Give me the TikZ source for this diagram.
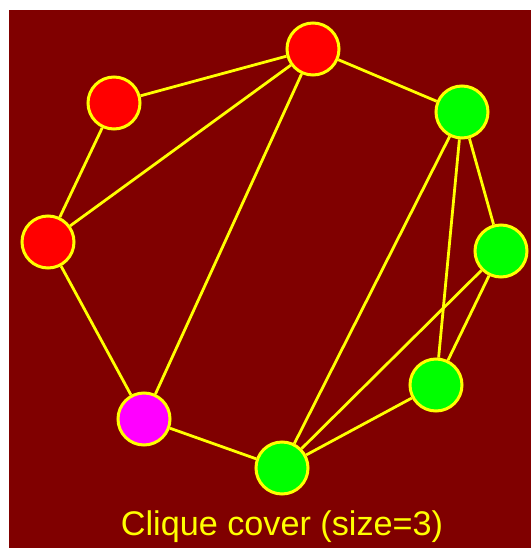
\documentclass[tikz,border=0pt]{standalone}
\usepackage{fontspec}
\setmainfont{Liberation Sans}
\definecolor{bgmaroon}{HTML}{800000}
\definecolor{edgeyellow}{HTML}{FFFF00}
\definecolor{vred}{HTML}{FF0000}
\definecolor{vgreen}{HTML}{00FF00}
\definecolor{vmagenta}{HTML}{FF00FF}
\tikzset{
	vtx/.style={circle, draw=edgeyellow, line width=3pt, minimum size=52pt, inner sep=0pt},
	edg/.style={draw=edgeyellow, line width=2.8pt}
}
\begin{document}
\begin{tikzpicture}[x=1pt, y=-1pt]
	\useasboundingbox (0,0) rectangle (531,549) ;
	\fill[white] (0,0) rectangle (531,549) ;
	\fill[bgmaroon] (9,10) rectangle (531,548) ;
	% red clique
		\node (a)[vtx, fill=vred] at (313, 49) {} ; 
		\node (b)[vtx, fill=vred] at (114, 103) {} ; 
		\node (c)[vtx, fill=vred] at (48, 242) {} ; 
	% green clique
		\node (d)[vtx, fill=vgreen] at (462, 112) {} ; 
		\node (e)[vtx, fill=vgreen] at (501, 251) {} ; 
		\node (f)[vtx, fill=vgreen] at (436, 385) {} ; 
		\node (g)[vtx, fill=vgreen] at (282, 468) {} ; 
	% single vertex
		\node (h)[vtx, fill=vmagenta] at (144, 419) {} ; 
		\node (lbl)[anchor=base, text=edgeyellow, font=\fontsize{34.2}{41}\selectfont] at (282, 535.5) {Clique cover (size=3)} ;
	\draw[edg] (b) -- (a) ;
	\draw[edg] (a) -- (d) ;
	\draw[edg] (a) -- (c) ;
	\draw[edg] (a) -- (h) ;
	\draw[edg] (b) -- (c) ;
	\draw[edg] (c) -- (h) ;
	\draw[edg] (h) -- (g) ;
	\draw[edg] (g) -- (f) ;
	\draw[edg] (g) -- (d) ;
	\draw[edg] (g) -- (e) ;
	\draw[edg] (d) -- (f) ;
	\draw[edg] (d) -- (e) ;
	\draw[edg] (e) -- (f) ;
\end{tikzpicture}
\end{document}
